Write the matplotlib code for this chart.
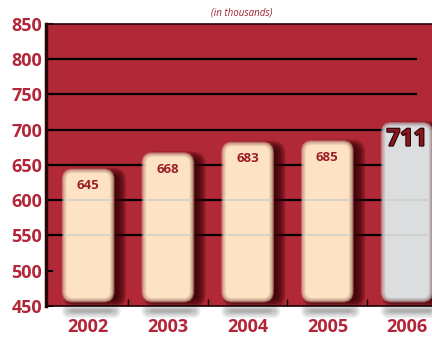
import matplotlib
matplotlib.use('Agg')
import matplotlib.pyplot as plt
from matplotlib.patches import FancyBboxPatch
import matplotlib.patheffects as pe

# Datos (en miles)
years = ['2002', '2003', '2004', '2005', '2006']
values = [645, 668, 683, 685, 711]
y_ticks = [450, 500, 550, 600, 650, 700, 750, 800, 850]
grid_levels = [550, 600, 650, 700, 750, 800]

fondo = '#b12837'
rojo_texto = '#b32538'
rojo_valor = '#9a1c26'
melocoton = '#fde3c3'
gris = '#dcdddf'
colores = [melocoton, melocoton, melocoton, melocoton, gris]

plt.rcParams['font.family'] = ['Open Sans', 'DejaVu Sans']

fig = plt.figure(figsize=(4.32, 3.37), dpi=100)
ax = fig.add_axes([0.107, 0.092, 0.893, 0.837])
ax.set_facecolor(fondo)
ax.set_xlim(-0.527, 4.313)
ax.set_ylim(450, 850)

# relacion pixel entre ejes para esquinas redondeadas
fig.canvas.draw()
px_x = ax.bbox.width / (ax.get_xlim()[1] - ax.get_xlim()[0])
px_y = ax.bbox.height / (ax.get_ylim()[1] - ax.get_ylim()[0])
aspecto = px_x / px_y


def caja_suave(x0, y0, w, h, color, radio_px, difuso_px, capas, alfa, z, clip=True):
    r = radio_px / px_x
    for i in range(capas):
        pad = (difuso_px - 2 * difuso_px * i / (capas - 1)) / px_x
        p = FancyBboxPatch((x0, y0), w, h,
                           boxstyle=f'round,pad={pad},rounding_size={max(r + pad, 0.001)}',
                           mutation_aspect=aspecto, fc=color, ec='none',
                           alpha=alfa, zorder=z, clip_on=clip)
        ax.add_patch(p)


# lineas horizontales
for lv in grid_levels:
    ax.hlines(lv, -0.53, 4.125, color='black', lw=1.6, zorder=1)

ancho = 0.66
base = 455
for i, (v, c) in enumerate(zip(values, colores)):
    x0 = i - ancho / 2
    # sombra oscura a la derecha
    caja_suave(x0 + 0.08, base, ancho, v - base - 6, '#3a0306', 8, 5, 8, 0.25, 2)
    # sombra gris debajo del eje
    caja_suave(x0 + 0.06, 440, ancho - 0.04, 6, '#6a6a6a', 3, 5, 8, 0.1, 2, clip=False)
    # barra con borde difuminado
    caja_suave(x0 + 3 / px_x, base + 3 / px_y, ancho - 6 / px_x, v - base - 6 / px_y,
               c, 8, 3, 8, 0.35, 3)
    caja_suave(x0 + 5 / px_x, base + 5 / px_y, ancho - 10 / px_x, v - base - 10 / px_y,
               c, 6, 0.5, 2, 1.0, 3)

# reflejos claros de la rejilla sobre las barras
for i in range(len(values)):
    for lv in (550, 600):
        ax.hlines(lv, i - ancho / 2 + 0.03, i + ancho / 2 - 0.03,
                  color='#c9ccc4', lw=1.2, alpha=0.8, zorder=4)

# etiquetas de valor
for i, v in enumerate(values):
    if i < len(values) - 1:
        ax.text(i, v - 24, str(v), ha='center', va='center', fontsize=9.5,
                fontweight='bold', color=rojo_valor, zorder=5)
    else:
        ax.text(i, v - 25, str(v), ha='center', va='center', fontsize=17,
                fontweight='bold', color='#8c1620', zorder=5,
                path_effects=[pe.withStroke(linewidth=1.5, foreground='#1a0000')])

ax.set_yticks(y_ticks)
ax.set_yticklabels([str(t) for t in y_ticks])
ax.set_xticks(range(len(years)))
ax.set_xticklabels(years)
ax.set_xticks([0.5, 1.5, 2.5, 3.5], minor=True)

ax.tick_params(axis='y', direction='in', length=5, width=1.5, color='black',
               labelsize=13, labelcolor=rojo_texto, pad=3)
ax.tick_params(axis='x', which='major', length=0, labelsize=13,
               labelcolor=rojo_texto, pad=9)
ax.tick_params(axis='x', which='minor', direction='in', length=5, width=1,
               color='black')
for lab in ax.get_xticklabels() + ax.get_yticklabels():
    lab.set_fontweight('bold')

ax.spines['right'].set_visible(False)
ax.spines['left'].set_color('#2a0507')
ax.spines['left'].set_linewidth(2.5)
ax.spines['top'].set_color('#2a0507')
ax.spines['top'].set_linewidth(1.2)
ax.spines['bottom'].set_color('#1a0204')
ax.spines['bottom'].set_linewidth(1.2)

fig.text(242 / 432, 1 - 13 / 337, '(in thousands)', ha='center', va='center',
         fontsize=7, style='italic', color='#9b2030')

fig.savefig('out.png', dpi=100)
